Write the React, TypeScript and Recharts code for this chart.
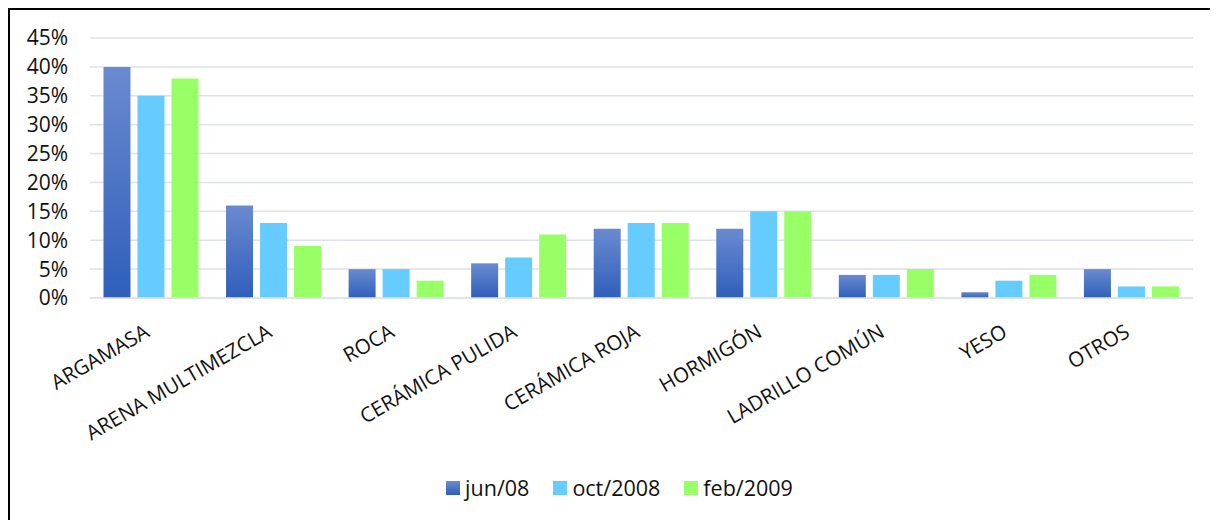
import { BarChart, Bar, XAxis, YAxis, CartesianGrid, Legend } from 'recharts';

const categories = ['ARGAMASA', 'ARENA MULTIMEZCLA', 'ROCA', 'CERÁMICA PULIDA', 'CERÁMICA ROJA', 'HORMIGÓN', 'LADRILLO COMÚN', 'YESO', 'OTROS'];
const jun08 = [40, 16, 5, 6, 12, 12, 4, 1, 5];
const oct2008 = [35, 13, 5, 7, 13, 15, 4, 3, 2];
const feb2009 = [38, 9, 3, 11, 13, 15, 5, 4, 2];
const yTicks = [0, 5, 10, 15, 20, 25, 30, 35, 40, 45];

const data = categories.map((name, i) => ({
    name,
    jun: jun08[i],
    oct: oct2008[i],
    feb: feb2009[i],
}));

const FONT = '"Open Sans", sans-serif';

function XTick({ x, y, payload }: any) {
    const tx = x - 8;
    const ty = y + 17;
    return (
        <text
            x={tx}
            y={ty}
            dy="0.72em"
            textAnchor="end"
            transform={`rotate(-30, ${tx}, ${ty})`}
            fontFamily={FONT}
            fontSize={20.5}
            fill="#111"
        >
            {payload.value}
        </text>
    );
}

function LegendContent() {
    const items = [
        { label: 'jun/08', fill: 'url(#lg-jun)' },
        { label: 'oct/2008', fill: '#66ccff' },
        { label: 'feb/2009', fill: '#99ff66' },
    ];
    return (
        <div style={{ display: 'flex', justifyContent: 'center', paddingLeft: 36, fontFamily: FONT, fontSize: 21.5, color: '#111' }}>
            {items.map((it) => (
                <div key={it.label} style={{ display: 'flex', alignItems: 'center', margin: '0 12px' }}>
                    <svg width={14} height={14} style={{ marginRight: 5 }}>
                        <defs>
                            <linearGradient id="lg-jun" x1="0" y1="0" x2="0" y2="1">
                                <stop offset="0%" stopColor="#6a8ad0" />
                                <stop offset="100%" stopColor="#2f5fba" />
                            </linearGradient>
                        </defs>
                        <rect width={14} height={14} fill={it.fill} />
                    </svg>
                    <span>{it.label}</span>
                </div>
            ))}
        </div>
    );
}

export default function App() {
    return (
        <div style={{ borderLeft: '2px solid #000', borderTop: '2px solid #000', width: 1208, height: 510, background: '#fff' }}>
            <BarChart
                width={1208}
                height={508}
                data={data}
                margin={{ top: 28, right: 25, left: 0, bottom: 0 }}
                barCategoryGap="11%"
                barGap={7}
            >
                <defs>
                    <linearGradient id="junGrad" x1="0" y1="0" x2="0" y2="1">
                        <stop offset="0%" stopColor="#6a8ad0" />
                        <stop offset="100%" stopColor="#2f5fba" />
                    </linearGradient>
                </defs>
                <CartesianGrid vertical={false} stroke="#dde2e9" strokeWidth={1.5} />
                <XAxis
                    dataKey="name"
                    interval={0}
                    tickLine={false}
                    axisLine={{ stroke: '#dde2e9', strokeWidth: 1.5 }}
                    tick={<XTick />}
                    height={191}
                />
                <YAxis
                    width={80}
                    domain={[0, 45]}
                    ticks={yTicks}
                    interval={0}
                    tickFormatter={(v) => `${v}%`}
                    axisLine={false}
                    tickLine={false}
                    tickMargin={16}
                    tick={{ fontFamily: FONT, fontSize: 21, fill: '#111' }}
                />
                <Legend verticalAlign="bottom" content={<LegendContent />} wrapperStyle={{ bottom: 16 }} />
                <Bar dataKey="jun" name="jun/08" fill="url(#junGrad)" isAnimationActive={false} />
                <Bar dataKey="oct" name="oct/2008" fill="#66ccff" isAnimationActive={false} />
                <Bar dataKey="feb" name="feb/2009" fill="#99ff66" isAnimationActive={false} />
            </BarChart>
        </div>
    );
}
